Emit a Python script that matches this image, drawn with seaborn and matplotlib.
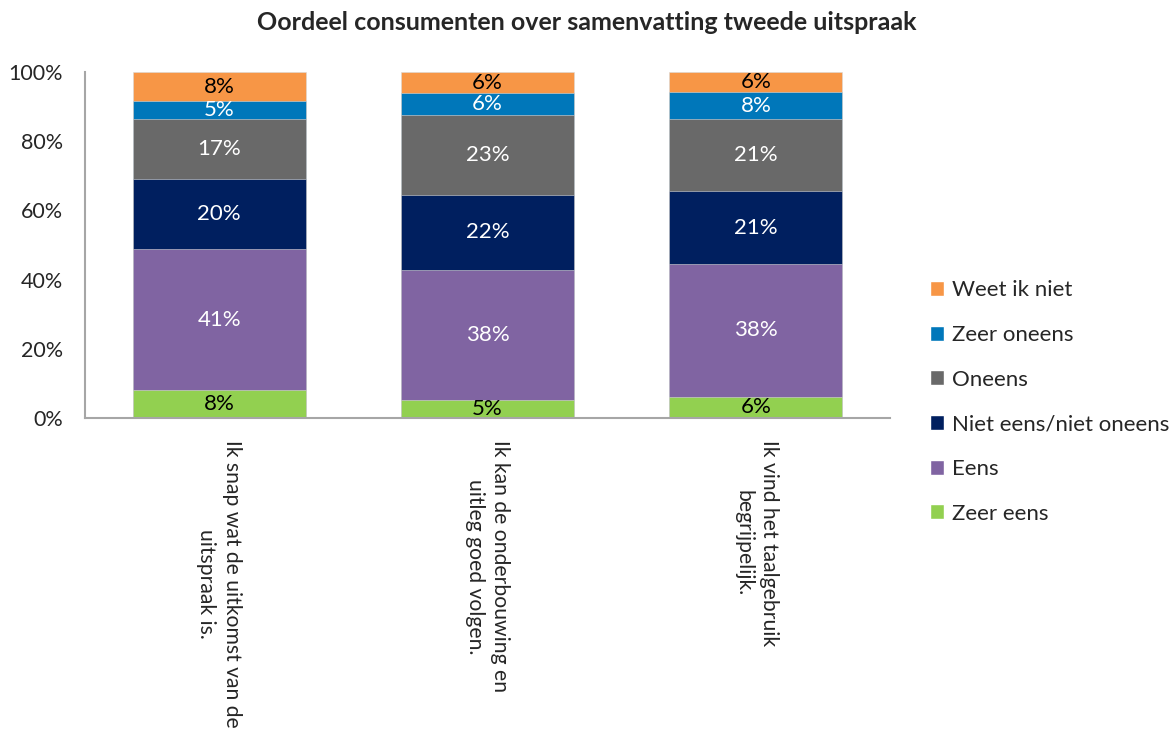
"""Oordeel consumenten over samenvatting tweede uitspraak - gestapelde staven"""

import matplotlib
matplotlib.use("Agg")
import matplotlib.pyplot as plt
from matplotlib.patches import Patch
import numpy as np
import seaborn as sns

# data (percentages per stelling, van onder naar boven)
stellingen = [
    "Ik snap wat de uitkomst van de\nuitspraak is.",
    "Ik kan de onderbouwing en\nuitleg goed volgen.",
    "Ik vind het taalgebruik\nbegrijpelijk.",
]
antwoorden = ["Zeer eens", "Eens", "Niet eens/niet oneens", "Oneens", "Zeer oneens", "Weet ik niet"]
zeer_eens = [8.0, 5.1, 6.1]
eens = [40.8, 37.8, 38.4]
neutraal = [20.4, 21.6, 21.1]
oneens = [17.1, 23.1, 20.9]
zeer_oneens = [5.3, 6.2, 7.6]
weet_niet = [8.4, 6.2, 5.9]
y_ticks = [0, 20, 40, 60, 80, 100]

kleuren = ["#92D050", "#8064A2", "#001F5F", "#696969", "#0077BA", "#F79646"]
label_kleur = ["black", "white", "white", "white", "white", "black"]

reeksen = np.array([zeer_eens, eens, neutraal, oneens, zeer_oneens, weet_niet])
cum = reeksen.cumsum(axis=0)

sns.set_theme(style="white")
plt.rcParams["font.family"] = ["Lato", "DejaVu Sans"]

fig = plt.figure(figsize=(11.74, 7.42), dpi=100)
ax = fig.add_axes([85 / 1174, 1 - 418 / 742, 805 / 1174, 346 / 742])

# stapelen: hoogste cumulatieve som eerst, daarna de lagere eroverheen
for k in range(len(antwoorden) - 1, -1, -1):
    sns.barplot(x=list(range(len(stellingen))), y=cum[k], color=kleuren[k],
                saturation=1, width=0.645, ax=ax, native_scale=True,
                edgecolor="#D9D9D9", linewidth=0.4)

for k in range(len(antwoorden)):
    for i in range(len(stellingen)):
        onder = cum[k][i] - reeksen[k][i]
        ax.text(i, onder + reeksen[k][i] / 2, f"{reeksen[k][i]:.0f}%",
                ha="center", va="center", fontsize=16, color=label_kleur[k])

ax.set_xlim(-0.5, 2.5)
ax.set_ylim(0, 100)
ax.set_yticks(y_ticks)
ax.set_yticklabels([f"{v}%" for v in y_ticks], fontsize=15.5)
ax.set_xticks(range(len(stellingen)))
ax.set_xticklabels(stellingen, rotation=-90, ha="center", va="top",
                   multialignment="center", fontsize=15.2, linespacing=1.35)
ax.tick_params(axis="both", length=0)
ax.tick_params(axis="x", pad=16)
ax.tick_params(axis="y", pad=16)
ax.set_xlabel("")
ax.set_ylabel("")

for side in ["top", "right"]:
    ax.spines[side].set_visible(False)
for side in ["left", "bottom"]:
    ax.spines[side].set_color("#A6A6A6")
    ax.spines[side].set_linewidth(1.5)

handles = [Patch(facecolor=kleuren[k], label=antwoorden[k]) for k in range(len(antwoorden))][::-1]
fig.legend(handles=handles, loc="center left", bbox_to_anchor=(930 / 1174, 1 - 402 / 742),
           bbox_transform=fig.transFigure, frameon=False, fontsize=16,
           handlelength=0.65, handleheight=0.65, handletextpad=0.35,
           labelspacing=1.11, borderpad=0, borderaxespad=0)

fig.suptitle("Oordeel consumenten over samenvatting tweede uitspraak",
             fontsize=18, fontweight="bold", y=1 - 22 / 742, va="center")

fig.savefig("out.png", dpi=100)
plt.close(fig)
